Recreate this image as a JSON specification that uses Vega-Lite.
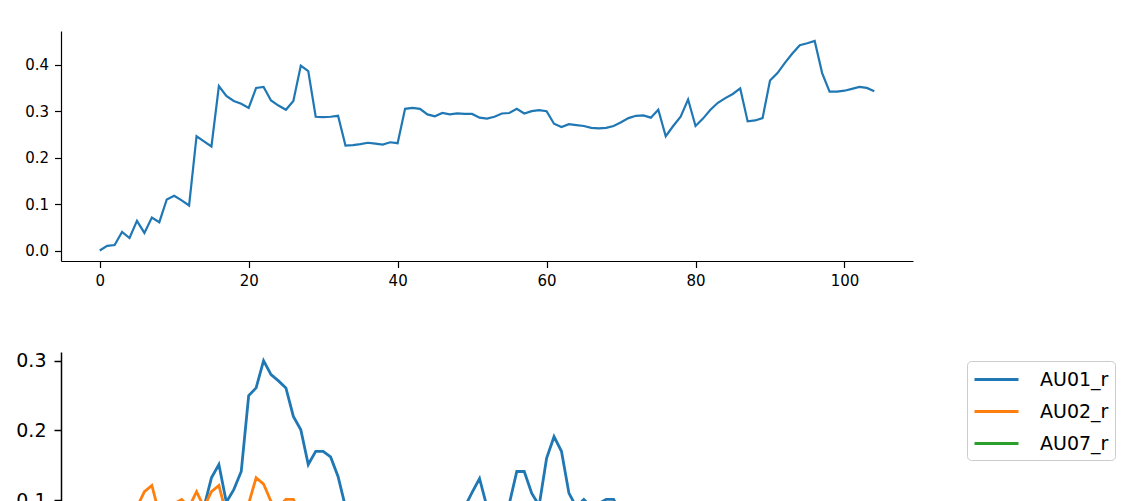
{
 "$schema": "https://vega.github.io/schema/vega-lite/v6.json",
 "padding": {"left": 15, "top": 31, "right": 0, "bottom": 0},
 "config": {
  "view": {"stroke": null},
  "font": "DejaVu Sans",
  "axis": {"domainColor": "#000", "tickColor": "#000", "labelColor": "#000", "labelFont": "DejaVu Sans", "grid": false, "title": null, "labelFlush": false},
  "legend": {"labelFontSize": 19, "labelFont": "DejaVu Sans", "labelColor": "#000", "symbolType": "M-1,0H3", "symbolSize": 484, "symbolStrokeWidth": 2.8, "strokeColor": "#cccccc", "fillColor": "#ffffff", "cornerRadius": 4, "padding": 6, "rowPadding": 9, "labelOffset": 42}
 },
 "datasets": {
  "top": [
   {"x":0,"v":0.0},{"x":1,"v":0.01},{"x":2,"v":0.012},{"x":3,"v":0.04},{"x":4,"v":0.027},{"x":5,"v":0.064},{"x":6,"v":0.038},{"x":7,"v":0.071},{"x":8,"v":0.061},{"x":9,"v":0.11},
   {"x":10,"v":0.118},{"x":11,"v":0.108},{"x":12,"v":0.097},{"x":13,"v":0.246},{"x":14,"v":0.235},{"x":15,"v":0.224},{"x":16,"v":0.354},{"x":17,"v":0.333},{"x":18,"v":0.322},{"x":19,"v":0.316},
   {"x":20,"v":0.307},{"x":21,"v":0.35},{"x":22,"v":0.352},{"x":23,"v":0.323},{"x":24,"v":0.312},{"x":25,"v":0.303},{"x":26,"v":0.322},{"x":27,"v":0.398},{"x":28,"v":0.386},{"x":29,"v":0.288},
   {"x":30,"v":0.287},{"x":31,"v":0.288},{"x":32,"v":0.29},{"x":33,"v":0.226},{"x":34,"v":0.227},{"x":35,"v":0.229},{"x":36,"v":0.232},{"x":37,"v":0.23},{"x":38,"v":0.228},{"x":39,"v":0.233},
   {"x":40,"v":0.231},{"x":41,"v":0.305},{"x":42,"v":0.307},{"x":43,"v":0.305},{"x":44,"v":0.293},{"x":45,"v":0.289},{"x":46,"v":0.296},{"x":47,"v":0.293},{"x":48,"v":0.295},{"x":49,"v":0.294},
   {"x":50,"v":0.294},{"x":51,"v":0.286},{"x":52,"v":0.284},{"x":53,"v":0.288},{"x":54,"v":0.295},{"x":55,"v":0.296},{"x":56,"v":0.305},{"x":57,"v":0.295},{"x":58,"v":0.3},{"x":59,"v":0.302},
   {"x":60,"v":0.3},{"x":61,"v":0.273},{"x":62,"v":0.266},{"x":63,"v":0.272},{"x":64,"v":0.27},{"x":65,"v":0.268},{"x":66,"v":0.264},{"x":67,"v":0.263},{"x":68,"v":0.264},{"x":69,"v":0.268},
   {"x":70,"v":0.276},{"x":71,"v":0.285},{"x":72,"v":0.29},{"x":73,"v":0.291},{"x":74,"v":0.286},{"x":75,"v":0.303},{"x":76,"v":0.246},{"x":77,"v":0.268},{"x":78,"v":0.288},{"x":79,"v":0.325},
   {"x":80,"v":0.268},{"x":81,"v":0.284},{"x":82,"v":0.303},{"x":83,"v":0.318},{"x":84,"v":0.328},{"x":85,"v":0.337},{"x":86,"v":0.349},{"x":87,"v":0.278},{"x":88,"v":0.28},{"x":89,"v":0.285},
   {"x":90,"v":0.366},{"x":91,"v":0.382},{"x":92,"v":0.404},{"x":93,"v":0.424},{"x":94,"v":0.442},{"x":95,"v":0.446},{"x":96,"v":0.451},{"x":97,"v":0.382},{"x":98,"v":0.342},{"x":99,"v":0.342},
   {"x":100,"v":0.344},{"x":101,"v":0.348},{"x":102,"v":0.352},{"x":103,"v":0.35},{"x":104,"v":0.343}
  ],
  "bottom": [
   {"x":0,"au":"AU01_r","v":0.02},{"x":1,"au":"AU01_r","v":0.03},{"x":2,"au":"AU01_r","v":0.02},{"x":3,"au":"AU01_r","v":0.04},{"x":4,"au":"AU01_r","v":0.03},{"x":5,"au":"AU01_r","v":0.05},{"x":6,"au":"AU01_r","v":0.04},{"x":7,"au":"AU01_r","v":0.06},{"x":8,"au":"AU01_r","v":0.05},{"x":9,"au":"AU01_r","v":0.07},
   {"x":10,"au":"AU01_r","v":0.06},{"x":11,"au":"AU01_r","v":0.08},{"x":12,"au":"AU01_r","v":0.07},{"x":13,"au":"AU01_r","v":0.08},{"x":14,"au":"AU01_r","v":0.09},{"x":15,"au":"AU01_r","v":0.132},{"x":16,"au":"AU01_r","v":0.151},{"x":17,"au":"AU01_r","v":0.097},{"x":18,"au":"AU01_r","v":0.115},{"x":19,"au":"AU01_r","v":0.141},
   {"x":20,"au":"AU01_r","v":0.25},{"x":21,"au":"AU01_r","v":0.261},{"x":22,"au":"AU01_r","v":0.3},{"x":23,"au":"AU01_r","v":0.28},{"x":24,"au":"AU01_r","v":0.271},{"x":25,"au":"AU01_r","v":0.261},{"x":26,"au":"AU01_r","v":0.22},{"x":27,"au":"AU01_r","v":0.201},{"x":28,"au":"AU01_r","v":0.151},{"x":29,"au":"AU01_r","v":0.17},
   {"x":30,"au":"AU01_r","v":0.17},{"x":31,"au":"AU01_r","v":0.162},{"x":32,"au":"AU01_r","v":0.134},{"x":33,"au":"AU01_r","v":0.09},{"x":34,"au":"AU01_r","v":0.07},{"x":35,"au":"AU01_r","v":0.06},{"x":36,"au":"AU01_r","v":0.05},{"x":37,"au":"AU01_r","v":0.06},{"x":38,"au":"AU01_r","v":0.04},{"x":39,"au":"AU01_r","v":0.05},
   {"x":40,"au":"AU01_r","v":0.06},{"x":41,"au":"AU01_r","v":0.05},{"x":42,"au":"AU01_r","v":0.04},{"x":43,"au":"AU01_r","v":0.06},{"x":44,"au":"AU01_r","v":0.05},{"x":45,"au":"AU01_r","v":0.07},{"x":46,"au":"AU01_r","v":0.06},{"x":47,"au":"AU01_r","v":0.07},{"x":48,"au":"AU01_r","v":0.08},{"x":49,"au":"AU01_r","v":0.09},
   {"x":50,"au":"AU01_r","v":0.111},{"x":51,"au":"AU01_r","v":0.131},{"x":52,"au":"AU01_r","v":0.09},{"x":53,"au":"AU01_r","v":0.07},{"x":54,"au":"AU01_r","v":0.08},{"x":55,"au":"AU01_r","v":0.095},{"x":56,"au":"AU01_r","v":0.141},{"x":57,"au":"AU01_r","v":0.141},{"x":58,"au":"AU01_r","v":0.11},{"x":59,"au":"AU01_r","v":0.092},
   {"x":60,"au":"AU01_r","v":0.16},{"x":61,"au":"AU01_r","v":0.191},{"x":62,"au":"AU01_r","v":0.17},{"x":63,"au":"AU01_r","v":0.11},{"x":64,"au":"AU01_r","v":0.09},{"x":65,"au":"AU01_r","v":0.101},{"x":66,"au":"AU01_r","v":0.09},{"x":67,"au":"AU01_r","v":0.095},{"x":68,"au":"AU01_r","v":0.101},{"x":69,"au":"AU01_r","v":0.101},
   {"x":70,"au":"AU01_r","v":0.08},{"x":71,"au":"AU01_r","v":0.06},{"x":72,"au":"AU01_r","v":0.05},{"x":73,"au":"AU01_r","v":0.04},{"x":74,"au":"AU01_r","v":0.05},{"x":75,"au":"AU01_r","v":0.06},{"x":76,"au":"AU01_r","v":0.04},{"x":77,"au":"AU01_r","v":0.03},{"x":78,"au":"AU01_r","v":0.05},{"x":79,"au":"AU01_r","v":0.06},
   {"x":80,"au":"AU01_r","v":0.05},{"x":81,"au":"AU01_r","v":0.04},{"x":82,"au":"AU01_r","v":0.03},{"x":83,"au":"AU01_r","v":0.05},{"x":84,"au":"AU01_r","v":0.04},{"x":85,"au":"AU01_r","v":0.06},{"x":86,"au":"AU01_r","v":0.05},{"x":87,"au":"AU01_r","v":0.04},{"x":88,"au":"AU01_r","v":0.03},{"x":89,"au":"AU01_r","v":0.04},
   {"x":90,"au":"AU01_r","v":0.05},{"x":91,"au":"AU01_r","v":0.06},{"x":92,"au":"AU01_r","v":0.07},{"x":93,"au":"AU01_r","v":0.06},{"x":94,"au":"AU01_r","v":0.05},{"x":95,"au":"AU01_r","v":0.06},{"x":96,"au":"AU01_r","v":0.07},{"x":97,"au":"AU01_r","v":0.05},{"x":98,"au":"AU01_r","v":0.04},{"x":99,"au":"AU01_r","v":0.03},
   {"x":100,"au":"AU01_r","v":0.04},{"x":101,"au":"AU01_r","v":0.05},{"x":102,"au":"AU01_r","v":0.04},{"x":103,"au":"AU01_r","v":0.03},{"x":104,"au":"AU01_r","v":0.04},
   {"x":0,"au":"AU02_r","v":0.03},{"x":1,"au":"AU02_r","v":0.05},{"x":2,"au":"AU02_r","v":0.04},{"x":3,"au":"AU02_r","v":0.06},{"x":4,"au":"AU02_r","v":0.07},{"x":5,"au":"AU02_r","v":0.09},{"x":6,"au":"AU02_r","v":0.112},{"x":7,"au":"AU02_r","v":0.121},{"x":8,"au":"AU02_r","v":0.08},{"x":9,"au":"AU02_r","v":0.09},
   {"x":10,"au":"AU02_r","v":0.095},{"x":11,"au":"AU02_r","v":0.101},{"x":12,"au":"AU02_r","v":0.09},{"x":13,"au":"AU02_r","v":0.112},{"x":14,"au":"AU02_r","v":0.09},{"x":15,"au":"AU02_r","v":0.112},{"x":16,"au":"AU02_r","v":0.121},{"x":17,"au":"AU02_r","v":0.08},{"x":18,"au":"AU02_r","v":0.07},{"x":19,"au":"AU02_r","v":0.08},
   {"x":20,"au":"AU02_r","v":0.095},{"x":21,"au":"AU02_r","v":0.132},{"x":22,"au":"AU02_r","v":0.123},{"x":23,"au":"AU02_r","v":0.098},{"x":24,"au":"AU02_r","v":0.09},{"x":25,"au":"AU02_r","v":0.101},{"x":26,"au":"AU02_r","v":0.101},{"x":27,"au":"AU02_r","v":0.08},{"x":28,"au":"AU02_r","v":0.06},{"x":29,"au":"AU02_r","v":0.05},
   {"x":30,"au":"AU02_r","v":0.06},{"x":31,"au":"AU02_r","v":0.04},{"x":32,"au":"AU02_r","v":0.05},{"x":33,"au":"AU02_r","v":0.04},{"x":34,"au":"AU02_r","v":0.03},{"x":35,"au":"AU02_r","v":0.04},{"x":36,"au":"AU02_r","v":0.05},{"x":37,"au":"AU02_r","v":0.04},{"x":38,"au":"AU02_r","v":0.03},{"x":39,"au":"AU02_r","v":0.04},
   {"x":40,"au":"AU02_r","v":0.05},{"x":41,"au":"AU02_r","v":0.06},{"x":42,"au":"AU02_r","v":0.05},{"x":43,"au":"AU02_r","v":0.04},{"x":44,"au":"AU02_r","v":0.03},{"x":45,"au":"AU02_r","v":0.04},{"x":46,"au":"AU02_r","v":0.05},{"x":47,"au":"AU02_r","v":0.06},{"x":48,"au":"AU02_r","v":0.05},{"x":49,"au":"AU02_r","v":0.06},
   {"x":50,"au":"AU02_r","v":0.07},{"x":51,"au":"AU02_r","v":0.06},{"x":52,"au":"AU02_r","v":0.05},{"x":53,"au":"AU02_r","v":0.04},{"x":54,"au":"AU02_r","v":0.05},{"x":55,"au":"AU02_r","v":0.06},{"x":56,"au":"AU02_r","v":0.07},{"x":57,"au":"AU02_r","v":0.06},{"x":58,"au":"AU02_r","v":0.05},{"x":59,"au":"AU02_r","v":0.04},
   {"x":60,"au":"AU02_r","v":0.05},{"x":61,"au":"AU02_r","v":0.06},{"x":62,"au":"AU02_r","v":0.05},{"x":63,"au":"AU02_r","v":0.04},{"x":64,"au":"AU02_r","v":0.03},{"x":65,"au":"AU02_r","v":0.04},{"x":66,"au":"AU02_r","v":0.03},{"x":67,"au":"AU02_r","v":0.04},{"x":68,"au":"AU02_r","v":0.05},{"x":69,"au":"AU02_r","v":0.04},
   {"x":70,"au":"AU02_r","v":0.03},{"x":71,"au":"AU02_r","v":0.04},{"x":72,"au":"AU02_r","v":0.05},{"x":73,"au":"AU02_r","v":0.04},{"x":74,"au":"AU02_r","v":0.03},{"x":75,"au":"AU02_r","v":0.04},{"x":76,"au":"AU02_r","v":0.03},{"x":77,"au":"AU02_r","v":0.02},{"x":78,"au":"AU02_r","v":0.03},{"x":79,"au":"AU02_r","v":0.04},
   {"x":80,"au":"AU02_r","v":0.03},{"x":81,"au":"AU02_r","v":0.04},{"x":82,"au":"AU02_r","v":0.05},{"x":83,"au":"AU02_r","v":0.04},{"x":84,"au":"AU02_r","v":0.03},{"x":85,"au":"AU02_r","v":0.04},{"x":86,"au":"AU02_r","v":0.05},{"x":87,"au":"AU02_r","v":0.04},{"x":88,"au":"AU02_r","v":0.03},{"x":89,"au":"AU02_r","v":0.04},
   {"x":90,"au":"AU02_r","v":0.05},{"x":91,"au":"AU02_r","v":0.06},{"x":92,"au":"AU02_r","v":0.05},{"x":93,"au":"AU02_r","v":0.04},{"x":94,"au":"AU02_r","v":0.05},{"x":95,"au":"AU02_r","v":0.06},{"x":96,"au":"AU02_r","v":0.05},{"x":97,"au":"AU02_r","v":0.04},{"x":98,"au":"AU02_r","v":0.03},{"x":99,"au":"AU02_r","v":0.04},
   {"x":100,"au":"AU02_r","v":0.03},{"x":101,"au":"AU02_r","v":0.04},{"x":102,"au":"AU02_r","v":0.03},{"x":103,"au":"AU02_r","v":0.02},{"x":104,"au":"AU02_r","v":0.03},
   {"x":0,"au":"AU07_r","v":0.01},{"x":1,"au":"AU07_r","v":0.02},{"x":2,"au":"AU07_r","v":0.01},{"x":3,"au":"AU07_r","v":0.02},{"x":4,"au":"AU07_r","v":0.03},{"x":5,"au":"AU07_r","v":0.02},{"x":6,"au":"AU07_r","v":0.03},{"x":7,"au":"AU07_r","v":0.02},{"x":8,"au":"AU07_r","v":0.03},{"x":9,"au":"AU07_r","v":0.04},
   {"x":10,"au":"AU07_r","v":0.03},{"x":11,"au":"AU07_r","v":0.04},{"x":12,"au":"AU07_r","v":0.03},{"x":13,"au":"AU07_r","v":0.05},{"x":14,"au":"AU07_r","v":0.04},{"x":15,"au":"AU07_r","v":0.05},{"x":16,"au":"AU07_r","v":0.06},{"x":17,"au":"AU07_r","v":0.05},{"x":18,"au":"AU07_r","v":0.04},{"x":19,"au":"AU07_r","v":0.05},
   {"x":20,"au":"AU07_r","v":0.06},{"x":21,"au":"AU07_r","v":0.07},{"x":22,"au":"AU07_r","v":0.06},{"x":23,"au":"AU07_r","v":0.05},{"x":24,"au":"AU07_r","v":0.04},{"x":25,"au":"AU07_r","v":0.05},{"x":26,"au":"AU07_r","v":0.04},{"x":27,"au":"AU07_r","v":0.03},{"x":28,"au":"AU07_r","v":0.04},{"x":29,"au":"AU07_r","v":0.03},
   {"x":30,"au":"AU07_r","v":0.02},{"x":31,"au":"AU07_r","v":0.03},{"x":32,"au":"AU07_r","v":0.02},{"x":33,"au":"AU07_r","v":0.03},{"x":34,"au":"AU07_r","v":0.02},{"x":35,"au":"AU07_r","v":0.01},{"x":36,"au":"AU07_r","v":0.02},{"x":37,"au":"AU07_r","v":0.03},{"x":38,"au":"AU07_r","v":0.02},{"x":39,"au":"AU07_r","v":0.03},
   {"x":40,"au":"AU07_r","v":0.02},{"x":41,"au":"AU07_r","v":0.03},{"x":42,"au":"AU07_r","v":0.04},{"x":43,"au":"AU07_r","v":0.03},{"x":44,"au":"AU07_r","v":0.02},{"x":45,"au":"AU07_r","v":0.03},{"x":46,"au":"AU07_r","v":0.02},{"x":47,"au":"AU07_r","v":0.03},{"x":48,"au":"AU07_r","v":0.04},{"x":49,"au":"AU07_r","v":0.03},
   {"x":50,"au":"AU07_r","v":0.04},{"x":51,"au":"AU07_r","v":0.05},{"x":52,"au":"AU07_r","v":0.04},{"x":53,"au":"AU07_r","v":0.03},{"x":54,"au":"AU07_r","v":0.04},{"x":55,"au":"AU07_r","v":0.05},{"x":56,"au":"AU07_r","v":0.06},{"x":57,"au":"AU07_r","v":0.05},{"x":58,"au":"AU07_r","v":0.04},{"x":59,"au":"AU07_r","v":0.05},
   {"x":60,"au":"AU07_r","v":0.06},{"x":61,"au":"AU07_r","v":0.05},{"x":62,"au":"AU07_r","v":0.04},{"x":63,"au":"AU07_r","v":0.03},{"x":64,"au":"AU07_r","v":0.04},{"x":65,"au":"AU07_r","v":0.03},{"x":66,"au":"AU07_r","v":0.02},{"x":67,"au":"AU07_r","v":0.03},{"x":68,"au":"AU07_r","v":0.02},{"x":69,"au":"AU07_r","v":0.03},
   {"x":70,"au":"AU07_r","v":0.02},{"x":71,"au":"AU07_r","v":0.01},{"x":72,"au":"AU07_r","v":0.02},{"x":73,"au":"AU07_r","v":0.03},{"x":74,"au":"AU07_r","v":0.02},{"x":75,"au":"AU07_r","v":0.03},{"x":76,"au":"AU07_r","v":0.02},{"x":77,"au":"AU07_r","v":0.01},{"x":78,"au":"AU07_r","v":0.02},{"x":79,"au":"AU07_r","v":0.03},
   {"x":80,"au":"AU07_r","v":0.02},{"x":81,"au":"AU07_r","v":0.03},{"x":82,"au":"AU07_r","v":0.04},{"x":83,"au":"AU07_r","v":0.03},{"x":84,"au":"AU07_r","v":0.02},{"x":85,"au":"AU07_r","v":0.03},{"x":86,"au":"AU07_r","v":0.04},{"x":87,"au":"AU07_r","v":0.03},{"x":88,"au":"AU07_r","v":0.02},{"x":89,"au":"AU07_r","v":0.03},
   {"x":90,"au":"AU07_r","v":0.04},{"x":91,"au":"AU07_r","v":0.05},{"x":92,"au":"AU07_r","v":0.04},{"x":93,"au":"AU07_r","v":0.03},{"x":94,"au":"AU07_r","v":0.04},{"x":95,"au":"AU07_r","v":0.05},{"x":96,"au":"AU07_r","v":0.04},{"x":97,"au":"AU07_r","v":0.03},{"x":98,"au":"AU07_r","v":0.02},{"x":99,"au":"AU07_r","v":0.03},
   {"x":100,"au":"AU07_r","v":0.02},{"x":101,"au":"AU07_r","v":0.03},{"x":102,"au":"AU07_r","v":0.02},{"x":103,"au":"AU07_r","v":0.01},{"x":104,"au":"AU07_r","v":0.02}
  ]
 },
 "spacing": 91,
 "bounds": "flush",
 "resolve": {"scale": {"x": "independent", "y": "independent", "color": "independent"}},
 "vconcat": [
  {
   "width": 852, "height": 230,
   "data": {"name": "top"},
   "mark": {"type": "line", "color": "#1f77b4", "strokeWidth": 2.2},
   "encoding": {
    "x": {"field": "x", "type": "quantitative", "scale": {"domain": [-5.2, 109.2], "nice": false, "zero": false}, "axis": {"values": [0, 20, 40, 60, 80, 100], "labelFontSize": 15, "tickSize": 6.5, "labelPadding": 6, "domainWidth": 1.2, "tickWidth": 1.2}},
    "y": {"field": "v", "type": "quantitative", "scale": {"domain": [-0.0225, 0.4725], "nice": false, "zero": false}, "axis": {"values": [0, 0.1, 0.2, 0.3, 0.4], "format": ".1f", "labelFontSize": 15, "tickSize": 6.5, "labelPadding": 6, "domainWidth": 1.2, "tickWidth": 1.2}}
   }
  },
  {
   "width": 852, "height": 149,
   "data": {"name": "bottom"},
   "mark": {"type": "line", "strokeWidth": 2.8, "clip": true},
   "encoding": {
    "x": {"field": "x", "type": "quantitative", "scale": {"domain": [-5.2, 109.2], "nice": false, "zero": false}, "axis": null},
    "y": {"field": "v", "type": "quantitative", "scale": {"domain": [0.0987, 0.3125], "nice": false, "zero": false}, "axis": {"values": [0.1, 0.2, 0.3], "format": ".1f", "labelFontSize": 19, "tickSize": 7, "labelPadding": 8, "domainWidth": 1.5, "tickWidth": 1.5}},
    "color": {"field": "au", "type": "nominal", "scale": {"domain": ["AU01_r", "AU02_r", "AU07_r"], "range": ["#1f77b4", "#ff7f0e", "#2ca02c"]}, "legend": {"orient": "none", "legendX": 906, "legendY": 9, "title": null}}
   }
  }
 ]
}
